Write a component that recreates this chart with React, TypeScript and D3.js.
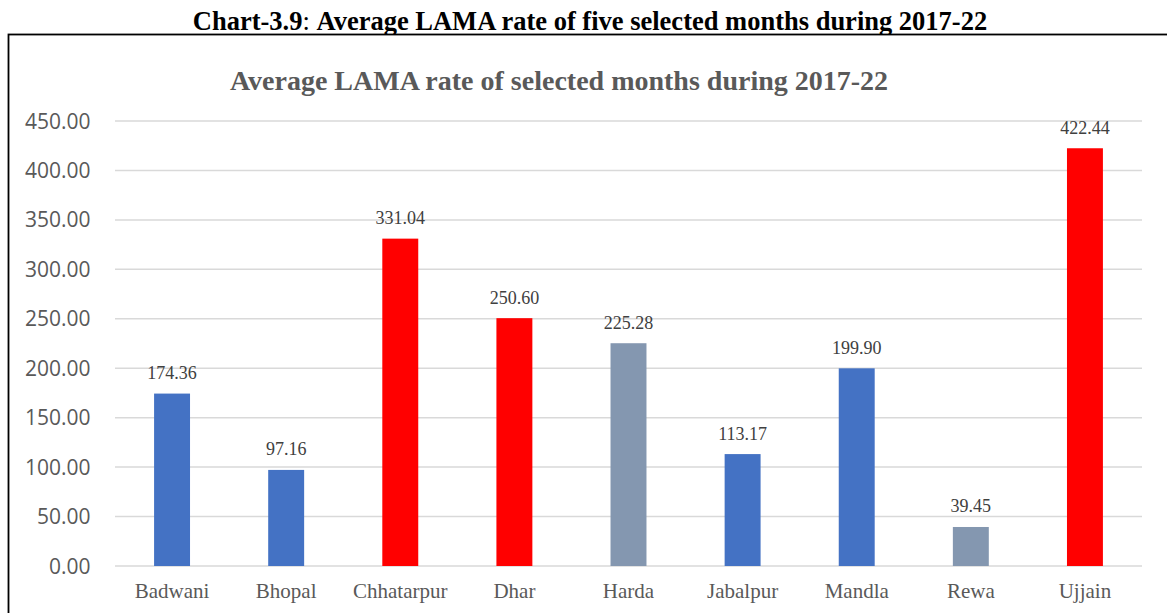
import React from 'react';
import * as d3 from 'd3';

const districts = ['Badwani', 'Bhopal', 'Chhatarpur', 'Dhar', 'Harda', 'Jabalpur', 'Mandla', 'Rewa', 'Ujjain'];
const lamaRates = [174.36, 97.16, 331.04, 250.6, 225.28, 113.17, 199.9, 39.45, 422.44];
const barGroups = ['blue', 'blue', 'red', 'red', 'grey', 'blue', 'blue', 'grey', 'red'];
const yTicks = [0, 50, 100, 150, 200, 250, 300, 350, 400, 450];

const colorOf: Record<string, string> = { blue: '#4472C4', red: '#FF0000', grey: '#8497B0' };

const W = 1167, H = 613;
const plot = { left: 115, right: 1142, top: 121, bottom: 566 };
const serif = 'Liberation Serif, Times New Roman, serif';

export default function App() {
  const x = d3.scaleBand<string>().domain(districts).range([plot.left, plot.right]).padding(0);
  const y = d3.scaleLinear().domain([0, 450]).range([plot.bottom, plot.top]);
  const barW = x.bandwidth() * 0.315;
  const fmt = d3.format('.2f');

  return (
    <svg width={W} height={H} style={{ position: 'absolute', left: 0, top: 0, background: '#fff' }}>
      <text x={590} y={30} textAnchor="middle" fontFamily={serif} fontSize={26.5} fontWeight="bold" fill="#000">
        Chart-3.9<tspan fontWeight="normal">: </tspan>Average LAMA rate of five selected months during 2017-22
      </text>
      <rect x={8.5} y={34.5} width={1200} height={620} fill="#fff" stroke="#000" strokeWidth={1.8} />

      <text x={559} y={90} textAnchor="middle" fontFamily={serif} fontSize={28} fontWeight="bold" fill="#595959">
        Average LAMA rate of selected months during 2017-22
      </text>

      {yTicks.map(t => (
        <g key={t}>
          <line x1={plot.left} x2={plot.right} y1={y(t)} y2={y(t)} stroke="#d9d9d9" strokeWidth={1.5} />
          <text x={90.5} y={y(t)} dy="0.36em" textAnchor="end" fontFamily="Open Sans, sans-serif" fontSize={21} fill="#595959">
            {fmt(t)}
          </text>
        </g>
      ))}

      {districts.map((d, i) => {
        const cx = (x(d) ?? 0) + x.bandwidth() / 2;
        const v = lamaRates[i];
        return (
          <g key={d}>
            <rect x={cx - barW / 2} y={y(v)} width={barW} height={y(0) - y(v)} fill={colorOf[barGroups[i]]} />
            <text x={cx} y={y(v) - 14.5} textAnchor="middle" fontFamily={serif} fontSize={18} fill="#404040">
              {fmt(v)}
            </text>
            <text x={cx} y={598} textAnchor="middle" fontFamily={serif} fontSize={21} fill="#595959">
              {d}
            </text>
          </g>
        );
      })}
    </svg>
  );
}
